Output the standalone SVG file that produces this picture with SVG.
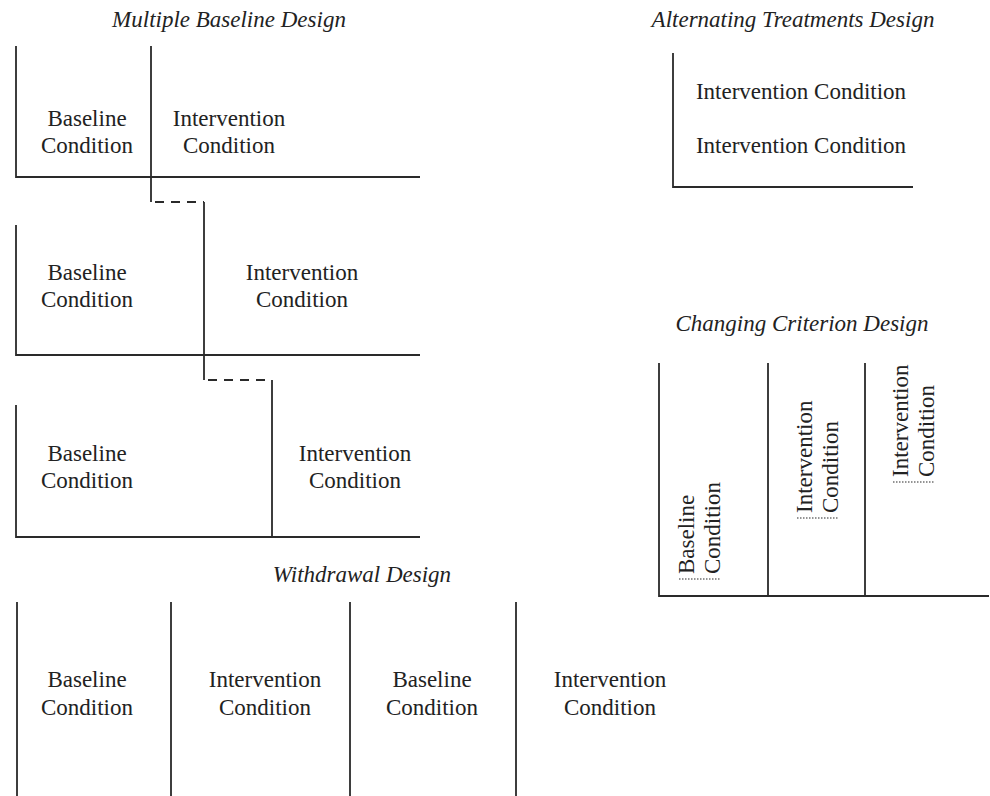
<svg xmlns="http://www.w3.org/2000/svg" width="990" height="796" viewBox="0 0 990 796">
<style>
text{font-family:"Liberation Serif","Times New Roman",serif;font-size:23px;fill:#222}
.t{font-style:italic;text-anchor:middle}
.c{text-anchor:middle}
.ln{stroke:#2a2a2a;stroke-width:1.8;fill:none}
.dash{stroke:#2a2a2a;stroke-width:1.8;fill:none;stroke-dasharray:9 7}
.dot{stroke:#2a2a2a;stroke-width:1.2;fill:none;stroke-dasharray:1.5 1.5}
</style>
<rect width="990" height="796" fill="#fff"/>

<g id="multiple-baseline">
<text class="t" x="229" y="27">Multiple Baseline Design</text>
<g id="mb-panel1">
<path class="ln" d="M16 46V177H420M151 46V202"/>
<text class="c" x="87" y="126">Baseline</text>
<text class="c" x="87" y="153">Condition</text>
<text class="c" x="229" y="126">Intervention</text>
<text class="c" x="229" y="153">Condition</text>
</g>
<g id="mb-panel2">
<path class="ln" d="M16 225V355H420M204 202V380"/>
<text class="c" x="87" y="280">Baseline</text>
<text class="c" x="87" y="307">Condition</text>
<text class="c" x="302" y="280">Intervention</text>
<text class="c" x="302" y="307">Condition</text>
</g>
<g id="mb-panel3">
<path class="ln" d="M16 405V537H420M272 380V537"/>
<text class="c" x="87" y="461">Baseline</text>
<text class="c" x="87" y="488">Condition</text>
<text class="c" x="355" y="461">Intervention</text>
<text class="c" x="355" y="488">Condition</text>
</g>
</g>

<g id="connectors">
<path class="dash" d="M155 202H204"/>
<path class="dash" d="M208 380H272"/>
</g>

<g id="alternating-treatments">
<text class="t" x="793" y="27">Alternating Treatments Design</text>
<path class="ln" d="M673 53V187H913"/>
<text class="c" x="801" y="99">Intervention Condition</text>
<text class="c" x="801" y="153">Intervention Condition</text>
</g>

<g id="changing-criterion">
<text class="t" x="802" y="331">Changing Criterion Design</text>
<path class="ln" d="M659 363V596H989M768 363V597M865 363V597"/>
<g id="cc-baseline">
<text transform="translate(694,574) rotate(-90)">Baseline</text>
<text transform="translate(720,574) rotate(-90)">Condition</text>
<path class="dot" d="M679 579H721"/>
</g>
<g id="cc-intervention1">
<text transform="translate(812,513) rotate(-90)">Intervention</text>
<text transform="translate(838,513) rotate(-90)">Condition</text>
<path class="dot" d="M797 518H838"/>
</g>
<g id="cc-intervention2">
<text transform="translate(908,477) rotate(-90)">Intervention</text>
<text transform="translate(934,477) rotate(-90)">Condition</text>
<path class="dot" d="M893 482H934"/>
</g>
</g>

<g id="withdrawal">
<text class="t" x="362" y="582">Withdrawal Design</text>
<path class="ln" d="M17 602V796M171 602V796M350 602V796M516 602V796"/>
<text class="c" x="87" y="687">Baseline</text>
<text class="c" x="87" y="715">Condition</text>
<text class="c" x="265" y="687">Intervention</text>
<text class="c" x="265" y="715">Condition</text>
<text class="c" x="432" y="687">Baseline</text>
<text class="c" x="432" y="715">Condition</text>
<text class="c" x="610" y="687">Intervention</text>
<text class="c" x="610" y="715">Condition</text>
</g>
</svg>
